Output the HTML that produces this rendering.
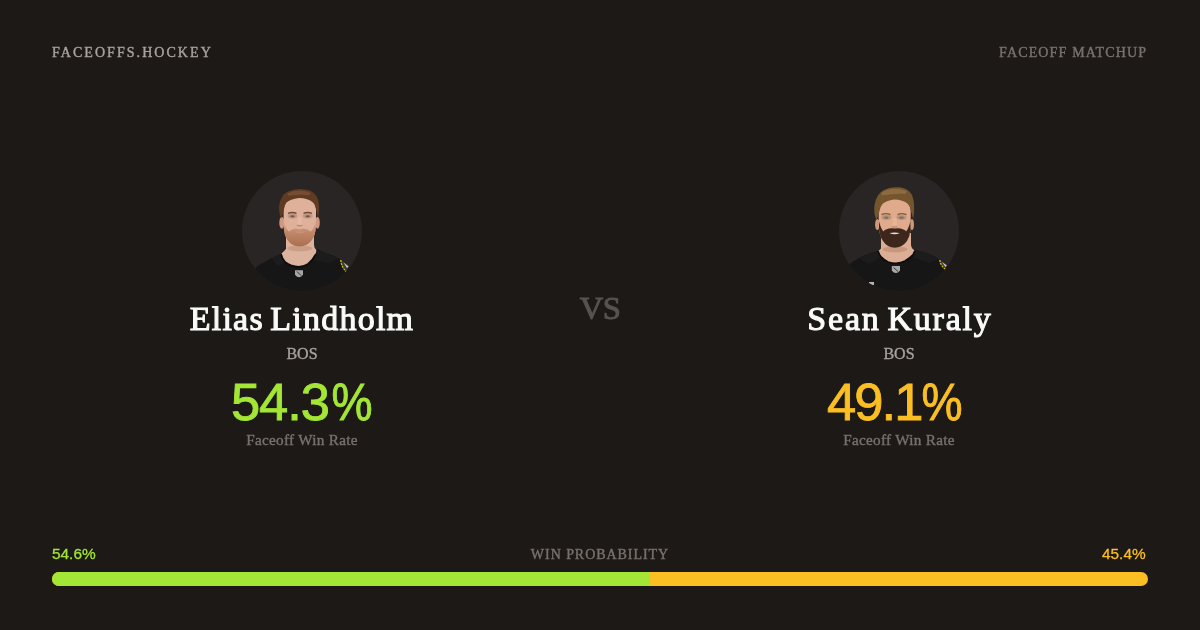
<!DOCTYPE html>
<html><head><meta charset="utf-8">
<style>
*{margin:0;padding:0;box-sizing:border-box}
html,body{width:1200px;height:630px;overflow:hidden;background:#1c1917}
body{position:relative;font-family:"Liberation Serif",serif;color:#fff}
.abs{position:absolute;white-space:nowrap;line-height:1;will-change:transform}
.ctr{transform:translateX(-50%);text-align:center}
.cap{font-size:14px;-webkit-text-stroke:0.4px currentColor}
.hl{left:52px;top:45.5px;letter-spacing:2.05px;color:#a8a29e}
.hr{left:999px;top:45.5px;letter-spacing:1.15px;color:#78716c}
.av{position:absolute;top:171px;width:120px;height:120px;border-radius:50%;background:#292524;overflow:hidden}
.av svg{display:block;width:120px;height:120px}
.name{top:302px;font-size:34px;font-weight:normal;color:#fafaf9;-webkit-text-stroke:1.1px #fafaf9;letter-spacing:1.25px;word-spacing:-3.5px}
.team{top:346px;font-size:16px;color:#a8a29e;-webkit-text-stroke:0.35px currentColor}
.pct{top:376px;font-family:"Liberation Sans",sans-serif;font-size:52.5px;-webkit-text-stroke:0.9px currentColor}
.pc{display:inline-block;transform:scaleX(.88);transform-origin:100% 50%;letter-spacing:0;margin-left:-4px}
.lbl{top:431.5px;font-size:15.2px;color:#78716c;letter-spacing:0.3px;-webkit-text-stroke:0.4px currentColor}
.vs{left:599.5px;top:292px;font-size:32.5px;color:#57534e;-webkit-text-stroke:1px #57534e;letter-spacing:-0.6px}
.pn{top:546px;font-family:"Liberation Sans",sans-serif;font-size:15.4px;-webkit-text-stroke:0.3px currentColor}
.pm{left:599.5px;top:547.5px;letter-spacing:0.95px;color:#78716c}
.bar{position:absolute;left:52px;top:572px;width:1096px;height:14px;border-radius:7px;background:#fbbf24;overflow:hidden}
.bar i{display:block;height:100%;width:598px;background:#a3e635}
</style></head><body>
<div class="abs cap hl">FACEOFFS.HOCKEY</div>
<div class="abs cap hr">FACEOFF MATCHUP</div>

<div class="av" style="left:242px"><svg viewBox="0 0 120 120"><defs><filter id="b1" x="-10%" y="-10%" width="120%" height="120%"><feGaussianBlur stdDeviation="0.6"/></filter>
<linearGradient id="g1" x1="0" y1="0" x2="0" y2="1"><stop offset="0" stop-color="#c48e70" stop-opacity="0.2"/><stop offset="0.45" stop-color="#b87c5c" stop-opacity="0.8"/><stop offset="1" stop-color="#a96e4e"/></linearGradient></defs><g filter="url(#b1)">
<path d="M10 122 L14 96 Q22 91 30 87 L39 82.500 L42 79 L74.500 78 L83 81.500 Q90 84 96 87 L108 96 L113 122 Z" fill="#161515"/>
<path d="M44 62 L44 78 Q41 81 39 83 Q40 88 43 91 Q49 95.500 57 96 Q63 95 66 93 Q71 89 74 83 L74.500 79 Q72 77 72 74 L72 62 Z" fill="#dcb39f"/><ellipse cx="57.800" cy="77.300" rx="12.500" ry="3" fill="#b5836b" opacity="0.450"/><path d="M30 87 L39 82.500 L43 91 L36 95 Z" fill="#232222" opacity="0.700"/><path d="M74.500 79 L83 81.500 L96 87 L88 92 L72 89 Z" fill="#212020" opacity="0.700"/>
<path d="M39 83 Q40 88 43 91 Q49 95.500 57 96 Q63 95 66 93 Q71 89 74 83" stroke="#0d0d0d" stroke-width="1.800" fill="none"/>
<ellipse cx="39.800" cy="51.800" rx="2.500" ry="6" fill="#cf9880"/><ellipse cx="75.500" cy="51.800" rx="2.300" ry="6" fill="#cf9880"/>
<path d="M41.600 38 Q41.500 27 57.500 26 Q74 27 74 38 L74 55 Q73.500 64 70 69 Q65 75.500 57.500 75.500 Q50 75.500 45.500 69 Q42 64 41.600 55 Z" fill="#dfb09a"/><ellipse cx="50.500" cy="45" rx="5" ry="2.600" fill="#b78670" opacity="0.600"/><ellipse cx="65.700" cy="45" rx="5" ry="2.600" fill="#b78670" opacity="0.600"/><path d="M56 46 L55.200 53 Q57.700 54.500 60.200 53 L59.500 46" fill="#e6bca8" opacity="0.700"/>
<path d="M41.800 50 Q43 57 47 60.500 Q50 57.500 54 57.500 L57.700 58.300 L61.500 57.500 Q65.500 57.500 68.500 60.500 Q72.500 57 73.800 50 L74 55 Q73.500 64 70 69 Q65 75.500 57.500 75.500 Q50 75.500 45.500 69 Q42 64 41.600 55 Z" fill="url(#g1)"/>
<path d="M52 61 Q57.500 59.600 63.500 61 Q57.500 63.400 52 61Z" fill="#cf8f80"/>
<path d="M39.200 47.500 Q36 40 37.500 33 Q39 24 46 20.500 Q53 17 62 18.300 Q71 19 75 26 Q78.500 33 76.300 47 Q75 43 74 38 Q73.500 34 71 31.500 Q66 27 57 27 Q48 28 44.500 31.500 Q42.500 34 42 38 Q41 43 39.200 47.500 Z" fill="#5e3b24"/><path d="M46 23.500 Q56 18.500 68 23 Q60 22 46 23.500Z" stroke="#7d5333" stroke-width="2.500" fill="#7d5333" opacity="0.800"/>
<path d="M46 42.400 q4.500 -1.600 8.500 0" stroke="#6d4a36" stroke-width="1.500" fill="none"/><path d="M61.500 42.400 q4 -1.600 8.500 0" stroke="#6d4a36" stroke-width="1.500" fill="none"/>
<ellipse cx="50.500" cy="45.300" rx="2.400" ry="1.100" fill="#6a5a50"/><ellipse cx="65.700" cy="45.300" rx="2.400" ry="1.100" fill="#6a5a50"/>
<path d="M55 54.300 Q57.700 55.500 60.400 54.300" stroke="#b98068" stroke-width="1.200" fill="none"/>
<path d="M53 99.200 h8 v4.500 q-4 5 -8 0 z" fill="#a6a6a6"/><path d="M55 100.500 l4 4" stroke="#333" stroke-width="1"/>
<path d="M98.500 88.500 L107.500 95 L104 101 Q99.500 96 98.500 88.500z" fill="#3a3a30"/><path d="M98.800 89 Q99.500 96 104 100.500" stroke="#d9c21f" stroke-width="1.300" fill="none" stroke-dasharray="2 1"/><path d="M101.500 91.500 L106.500 95.500 L105 97z" fill="#cfcfcf"/>
</g></svg></div>
<div class="abs ctr name" style="left:301.5px">Elias Lindholm</div>
<div class="abs ctr team" style="left:301.8px">BOS</div>
<div class="abs pct" style="right:828px;color:#a3e635;letter-spacing:-1.1px">54.3<span class="pc" style="margin-left:-3px">%</span></div>
<div class="abs ctr lbl" style="left:301.8px">Faceoff Win Rate</div>

<div class="abs ctr vs">VS</div>

<div class="av" style="left:839px"><svg viewBox="0 0 120 120"><defs><filter id="b2" x="-10%" y="-10%" width="120%" height="120%"><feGaussianBlur stdDeviation="0.6"/></filter></defs><g filter="url(#b2)">
<path d="M7 122 L11 92.500 Q15 90 20 87 Q25 84.500 30 82.500 L39 79.500 L42 78 L72 77.500 L76 79 Q82 80.500 88 82 Q94 84.500 100 88 L109 94 L114 122 Z" fill="#161515"/>
<path d="M42 62 L42 77.500 Q40.500 79 39 80 Q40 83.500 42 86 Q45 89 49 91 Q53 92.300 57 92.300 Q62 91.800 66 90 Q71 87 74 84 L76 79.500 Q72.500 78 72 74 L72 62 Z" fill="#dcae95"/><ellipse cx="56" cy="78.300" rx="12.500" ry="3" fill="#b07d62" opacity="0.450"/><path d="M20 87 L39 79.500 L42 86 L30 93 Z" fill="#222121" opacity="0.700"/><path d="M76 79 L88 82 L100 88 L90 92 L73 86 Z" fill="#212020" opacity="0.700"/>
<path d="M39 80 Q40 83.500 42 86 Q45 89 49 91 Q53 92.300 57 92.300 Q62 91.800 66 90 Q71 87 74 84 L76 79.500" stroke="#0d0d0d" stroke-width="1.800" fill="none"/>
<ellipse cx="38.300" cy="53.500" rx="2.200" ry="5.500" fill="#cf9677"/><ellipse cx="73" cy="53.500" rx="2" ry="5.500" fill="#cf9677"/>
<path d="M39.700 40 Q39.500 28.500 55.500 27.500 Q71.700 28.500 71.700 40 L71.700 56 Q71 65 68 70 Q63 76.800 55.800 76.800 Q48.500 76.800 44 70 Q40.500 65 39.700 56 Z" fill="#dfab8c"/><ellipse cx="47.300" cy="46.300" rx="5" ry="2.600" fill="#b3805f" opacity="0.600"/><ellipse cx="62.500" cy="46.300" rx="5" ry="2.600" fill="#b3805f" opacity="0.600"/><path d="M54 47 L53.200 54.500 Q55.700 56 58.200 54.500 L57.500 47" fill="#e8b99c" opacity="0.700"/>
<path d="M40 50 Q41.500 57 44.500 60.500 Q45 59 47 58.600 Q51 56.600 55.800 57.600 Q60.500 56.600 64.500 58.600 Q66.500 59 67 60.500 Q70 57 71.400 50 L71.500 58 Q71 65 68 70 Q63 76.800 55.800 76.800 Q48.500 76.800 44 70 Q40.500 65 40 58 Z" fill="#3e271a"/>
<path d="M50.500 61.900 Q55.600 61.200 60.800 61.900 Q55.600 64.600 50.500 61.900Z" fill="#eadcd6"/>
<path d="M37.300 49 Q34.500 42 35.500 34 Q37 24 44 19.500 Q51 15.500 60 16.300 Q69 17 73 24 Q76.500 32 74.300 48 Q73 44 72 40 Q71.500 36 69 33 Q64 28.500 55 28.500 Q47 29.500 43.500 33 Q41 36 40.500 40 Q39.500 45 37.300 49 Z" fill="#75542f"/><path d="M43 23 Q54 16.500 67 21.500 Q58 20.500 43 23Z" stroke="#947043" stroke-width="3" fill="#947043" opacity="0.800"/>
<path d="M42.500 43.600 q4.500 -1.800 9 0" stroke="#7d5a3c" stroke-width="1.300" fill="none"/><path d="M58.500 43.600 q4 -1.800 9 0" stroke="#7d5a3c" stroke-width="1.300" fill="none"/>
<ellipse cx="47.300" cy="46.600" rx="2.400" ry="1.200" fill="#5f7686"/><ellipse cx="62.500" cy="46.600" rx="2.400" ry="1.200" fill="#5f7686"/>
<path d="M53 55.500 Q55.600 56.800 58.300 55.500" stroke="#bb8466" stroke-width="1.200" fill="none"/>
<path d="M52.800 95 h8.200 v4.500 q-4.100 5 -8.200 0 z" fill="#aaaaaa"/><path d="M54.500 96.500 l4.500 4" stroke="#333" stroke-width="1"/>
<path d="M100.500 88.500 L108.500 94 L106 98.500 Q101.500 94.500 100.500 88.500z" fill="#3a3a30"/><path d="M100.800 89 Q101.500 94.500 106 98" stroke="#d9c21f" stroke-width="1.300" fill="none" stroke-dasharray="2 1"/><path d="M103 91 L107.800 94.500 L106.500 96z" fill="#cfcfcf"/>
<rect x="30" y="111" width="5" height="3" fill="#b5b5b5"/>
</g></svg></div>
<div class="abs ctr name" style="left:900px;letter-spacing:1.8px">Sean Kuraly</div>
<div class="abs ctr team" style="left:899px">BOS</div>
<div class="abs pct" style="right:238px;color:#fbbf24;letter-spacing:-1.9px">49.1<span class="pc" style="margin-left:-6px">%</span></div>
<div class="abs ctr lbl" style="left:898.9px">Faceoff Win Rate</div>

<div class="abs pn" style="left:52px;color:#a3e635">54.6%</div>
<div class="abs ctr cap pm">WIN PROBABILITY</div>
<div class="abs pn" style="left:1101.5px;color:#fbbf24">45.4%</div>
<div class="bar"><i></i></div>
</body></html>
